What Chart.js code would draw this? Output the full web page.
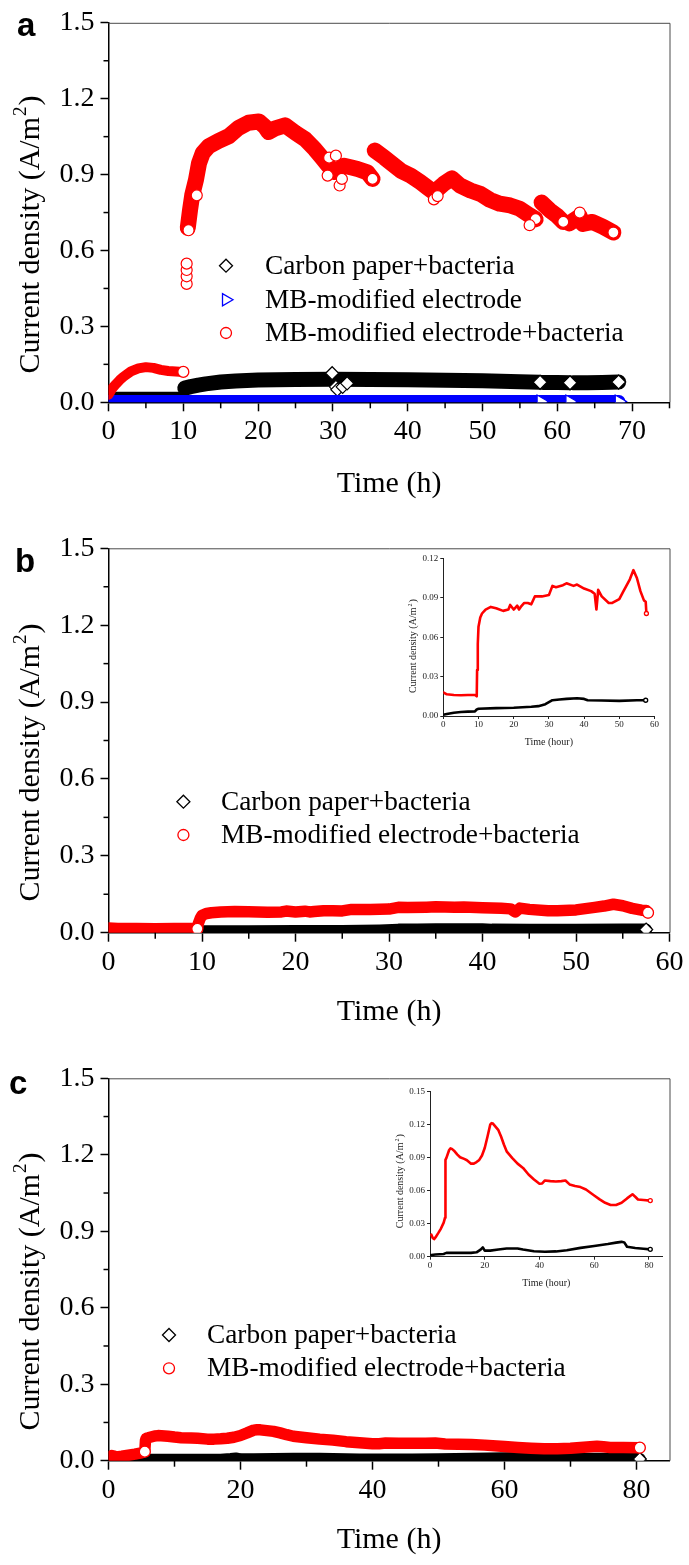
<!DOCTYPE html>
<html>
<head>
<meta charset="utf-8">
<script src="https://cdn.jsdelivr.net/npm/chart.js@4.4.0/dist/chart.umd.min.js"></script>
<style>
  html, body { margin: 0; padding: 0; background: #fff; }
  #wrap { position: relative; width: 689px; height: 1565px; }
  canvas { position: absolute; }
</style>
</head>
<body>
<div id="wrap">
  <canvas id="chartA" width="689" height="520" style="left:0;top:0"></canvas>
  <canvas id="chartB" width="689" height="520" style="left:0;top:520px"></canvas>
  <canvas id="chartC" width="689" height="525" style="left:0;top:1040px"></canvas>
  <canvas id="insetB" width="272" height="200" style="left:398px;top:548px"></canvas>
  <canvas id="insetC" width="295" height="215" style="left:385px;top:1082px"></canvas>
</div>
<script>
// ---- tick values ----
const yTicks = [0, 0.3, 0.6, 0.9, 1.2, 1.5];
const yMinor = [0.15, 0.45, 0.75, 1.05, 1.35];
const aXTicks = [0, 10, 20, 30, 40, 50, 60, 70];
const aXMinor = [5, 15, 25, 35, 45, 55, 65, 75];
const bXTicks = [0, 10, 20, 30, 40, 50, 60];
const bXMinor = [5, 15, 25, 35, 45, 55];
const cXTicks = [0, 20, 40, 60, 80];
const cXMinor = [10, 30, 50, 70];
const bInsetXTicks = [0, 10, 20, 30, 40, 50, 60];
const bInsetYTicks = [0, 0.03, 0.06, 0.09, 0.12];
const cInsetXTicks = [0, 20, 40, 60, 80];
const cInsetYTicks = [0, 0.03, 0.06, 0.09, 0.12, 0.15];

const labelCarbon = "Carbon paper+bacteria";
const labelMB = "MB-modified electrode";
const labelMBBact = "MB-modified electrode+bacteria";

// ---- panel a (null = break in the record) ----
const aRedT = [0, 0.5, 1, 1.5, 2, 3, 4, 5, 6, 7, 8, 9, 10, 10.2,
  10.6, 10.9, 11.2, 11.7, 12.1, 12.6, 13.4, 14.7, 16.1, 17.4, 18.7, 20.1, 20.9, 21.4, 22.3, 23.6, 25, 26.3, 27.6, 28.5, 29.4, 30.2, 31.5, 32.5, 33.3, 34.6, 35.3, 35.45,
  35.6, 36.9, 37.7, 39.1, 40.4, 41.7, 42.6, 43.5, 44.8, 45.9, 47, 48.4, 49.7, 51, 52.3, 53.7, 55, 56.3, 57.1, 57.5,
  57.9, 59, 59.9, 60.8, 61.2,
  61.6, 63, 63.4, 64.7, 66.1, 67.5];
const aRedV = [0.03, 0.055, 0.072, 0.088, 0.101, 0.122, 0.134, 0.139, 0.136, 0.128, 0.124, 0.122, 0.12, null,
  0.69, 0.76, 0.82, 0.88, 0.945, 0.985, 1.012, 1.033, 1.052, 1.085, 1.105, 1.11, 1.09, 1.068, 1.083, 1.095, 1.065, 1.04, 1.0, 0.968, 0.935, 0.91, 0.935, 0.928, 0.922, 0.909, 0.883, null,
  0.995, 0.967, 0.948, 0.915, 0.896, 0.87, 0.85, 0.83, 0.863, 0.885, 0.857, 0.837, 0.824, 0.80, 0.785, 0.778, 0.765, 0.739, 0.724, null,
  0.79, 0.759, 0.739, 0.713, null,
  0.707, 0.735, 0.705, 0.713, 0.694, 0.671];
const aRedOutT = [10.45, 10.45, 10.45, 10.45, 10.7, 11.8, 29.3, 29.5, 30.4, 30.9, 31.2, 43.5, 44.0, 56.3, 63.0];
const aRedOutV = [0.468, 0.498, 0.523, 0.548, 0.68, 0.818, 0.896, 0.967, 0.975, 0.857, 0.883, 0.802, 0.815, 0.70, 0.75];

const aBlack1T = [0, 5, 9.8];
const aBlack1V = [0.012, 0.012, 0.012];
const aBlackT = [10.2, 11, 12, 13, 15, 17, 20, 25, 30, 35, 40, 45, 50, 55, 57.7, 57.9, 58.1, 60, 61.7, 61.9, 62.1, 64, 66, 68.2];
const aBlackV = [0.056, 0.062, 0.068, 0.073, 0.080, 0.084, 0.088, 0.090, 0.091, 0.090, 0.089, 0.087, 0.085, 0.081, 0.079, null, 0.078, 0.078, 0.077, null, 0.077, 0.077, 0.078, 0.080];
const aBlackOutT = [29.9, 30.4, 30.6, 31.3, 31.9];
const aBlackOutV = [0.115, 0.061, 0.05, 0.061, 0.075];

const aBlueT = [0, 20, 40, 57.8, 57.95, 58.1, 61.65, 61.8, 62.0, 68.25];
const aBlueV = [0.003, 0.003, 0.003, 0.003, null, 0.003, 0.003, null, 0.003, 0.003];

// ---- panel b ----
const bRedT = [0, 1, 3, 5, 7, 9, 9.5, 9.6, 9.8, 10, 10.5, 11, 12, 13.5, 15, 17, 18.5, 19, 20, 21, 21.5, 22, 23, 24, 25, 26, 28, 30, 31, 32, 34, 35, 37, 38, 40, 42, 43, 43.5, 44, 45, 47, 48, 50, 51, 52, 53, 54, 55, 56, 57, 57.5, 57.7];
const bRedV = [0.018, 0.0165, 0.016, 0.0158, 0.016, 0.016, 0.015, 0.035, 0.055, 0.068, 0.075, 0.078, 0.081, 0.083, 0.082, 0.080, 0.081, 0.0845, 0.081, 0.084, 0.081, 0.083, 0.086, 0.086, 0.085, 0.091, 0.091, 0.092, 0.099, 0.098, 0.0995, 0.101, 0.099, 0.1, 0.097, 0.095, 0.093, 0.081, 0.096, 0.091, 0.086, 0.086, 0.089, 0.094, 0.099, 0.104, 0.111, 0.105, 0.095, 0.088, 0.087, 0.078];
const bBlackT = [0, 1, 3, 5, 7, 9, 9.5, 10, 15, 20, 25, 27, 29, 31, 33, 35, 38, 40, 41, 45, 50, 55, 57.5];
const bBlackV = [0.001, 0.0015, 0.0025, 0.003, 0.0033, 0.0035, 0.005, 0.0055, 0.006, 0.0063, 0.007, 0.0075, 0.009, 0.012, 0.0125, 0.013, 0.0135, 0.013, 0.012, 0.0118, 0.0115, 0.012, 0.012];

// ---- panel c ----
const cRedT = [0.5, 1, 1.5, 2, 3, 4, 5, 5.5, 5.6, 5.7, 6, 7, 7.5, 8, 9, 10, 11, 12.5, 13.5, 15, 16, 17, 18, 19, 20, 21, 22, 22.5, 23, 24, 25, 26, 27, 28, 30, 32, 34, 36, 38, 40, 41, 42, 44, 46, 48, 49.5, 51, 53, 55, 57, 60, 62, 64, 66, 68, 70, 72, 74, 75, 76, 78, 80.5];
const cRedV = [0.02, 0.017, 0.016, 0.0175, 0.0214, 0.0256, 0.031, 0.0355, 0.079, 0.088, 0.0898, 0.097, 0.0985, 0.098, 0.0958, 0.0928, 0.0904, 0.0889, 0.0877, 0.0846, 0.0846, 0.086, 0.088, 0.092, 0.0988, 0.109, 0.12, 0.1214, 0.121, 0.118, 0.115, 0.109, 0.102, 0.0958, 0.0898, 0.0846, 0.0807, 0.0747, 0.0702, 0.0663, 0.0666, 0.0693, 0.0687, 0.0684, 0.0687, 0.0693, 0.0657, 0.0642, 0.0633, 0.0611, 0.0557, 0.0521, 0.049, 0.047, 0.047, 0.049, 0.053, 0.0567, 0.0545, 0.052, 0.0515, 0.051];
const cBlackT = [0.5, 2, 5, 5.5, 6, 10, 15, 17, 18.5, 19.3, 20, 22, 25, 28, 32, 34, 38, 42, 46, 50, 55, 60, 65, 68, 70, 71, 72, 75, 78, 80.5];
const cBlackV = [0.0015, 0.002, 0.0025, 0.003, 0.0035, 0.0035, 0.0035, 0.004, 0.0065, 0.0085, 0.0055, 0.0055, 0.0065, 0.0075, 0.0075, 0.0065, 0.005, 0.0045, 0.0048, 0.0058, 0.008, 0.0098, 0.0115, 0.0128, 0.0135, 0.013, 0.009, 0.0079, 0.0072, 0.0067];

// ---- helpers ----
const SERIF = '"Liberation Serif", "Times New Roman", serif';
const RED = "#ff0000", BLUE = "#0000ff", BLACK = "#000000";

function pts(ts, vs) {
  return ts.map((t, i) => ({ x: t, y: vs[i] }));
}

// marker only where a run of points ends (next is a gap, or last point)
const segEnds = r => c => {
  if (c.type !== "data") return 0;
  const d = c.dataset.data, i = c.dataIndex;
  if (d[i].y === null) return 0;
  return (i === d.length - 1 || d[i + 1].y === null) ? r : 0;
};
// last point plus the foot of a sudden jump
const jumpsAndLast = (r, thr) => c => {
  if (c.type !== "data") return 0;
  const d = c.dataset.data, i = c.dataIndex;
  if (i === d.length - 1) return r;
  const up = d[i + 1].y - d[i].y;
  const before = i > 0 ? d[i].y - d[i - 1].y : 0;
  return (up > thr && before < thr) ? r : 0;
};
const lastOnly = r => c => (c.type === "data" && c.dataIndex === c.dataset.data.length - 1) ? r : 0;

function band(ts, vs, color, width, style, radiusFn, order, rotation) {
  return {
    data: pts(ts, vs),
    borderColor: color, borderWidth: width,
    borderCapStyle: "round", borderJoinStyle: "round",
    tension: 0, spanGaps: false, clip: 0, order: order,
    pointStyle: style, pointRotation: rotation || 0,
    pointRadius: radiusFn, pointHoverRadius: 0,
    pointBackgroundColor: "#fff", pointBorderColor: color, pointBorderWidth: 1.3
  };
}

function scatter(ts, vs, color, style, r, order) {
  return {
    data: pts(ts, vs), showLine: false, clip: 0, order: order,
    pointStyle: style, pointRadius: r, pointHoverRadius: 0,
    pointBackgroundColor: "#fff", pointBorderColor: color, pointBorderWidth: 1.2
  };
}

function drawYTitle(ctx, cx, cy, size, color) {
  const main = "Current density (A/m", sup = "2", tail = ")";
  const f1 = size + "px " + SERIF, f2 = Math.round(size * 0.62) + "px " + SERIF;
  ctx.save();
  ctx.translate(cx, cy);
  ctx.rotate(-Math.PI / 2);
  ctx.fillStyle = color;
  ctx.textBaseline = "alphabetic";
  ctx.textAlign = "left";
  ctx.font = f1;
  const w1 = ctx.measureText(main).width, w3 = ctx.measureText(tail).width;
  ctx.font = f2;
  const w2 = ctx.measureText(sup).width;
  let x = -(w1 + w2 + w3) / 2;
  const base = size * 0.33;
  ctx.font = f1; ctx.fillText(main, x, base); x += w1;
  ctx.font = f2; ctx.fillText(sup, x + 1, base - size * 0.42); x += w2 + 2;
  ctx.font = f1; ctx.fillText(tail, x, base);
  ctx.restore();
}

function marker(ctx, style, x, y, color) {
  ctx.save();
  ctx.strokeStyle = color; ctx.fillStyle = "#fff"; ctx.lineWidth = 1.3;
  ctx.beginPath();
  if (style === "diamond") {
    const r = 6.5;
    ctx.moveTo(x - r, y); ctx.lineTo(x, y - r); ctx.lineTo(x + r, y); ctx.lineTo(x, y + r); ctx.closePath();
  } else if (style === "triangle") {
    const r = 7;
    ctx.moveTo(x + r, y); ctx.lineTo(x - r / 2, y + r * 0.866); ctx.lineTo(x - r / 2, y - r * 0.866); ctx.closePath();
  } else {
    ctx.arc(x, y, 5.5, 0, Math.PI * 2);
  }
  ctx.fill(); ctx.stroke();
  ctx.restore();
}

// frame, minor ticks, y title, panel letter, in-plot legend
function deco(o) {
  return {
    id: "deco",
    afterDraw(chart) {
      const { ctx, chartArea: a, scales: { x, y } } = chart;
      ctx.save();
      if (o.frame) {
        ctx.strokeStyle = "#4a4a4a"; ctx.lineWidth = 1;
        ctx.beginPath();
        ctx.moveTo(a.left, a.top + 0.5);
        ctx.lineTo(a.right + 0.5, a.top + 0.5);
        ctx.lineTo(a.right + 0.5, a.bottom);
        ctx.stroke();
      }
      ctx.strokeStyle = "#000"; ctx.lineWidth = 1.5;
      (o.xMinor || []).forEach(v => {
        const px = x.getPixelForValue(v);
        ctx.beginPath(); ctx.moveTo(px, a.bottom); ctx.lineTo(px, a.bottom + 6); ctx.stroke();
      });
      (o.yMinor || []).forEach(v => {
        const py = y.getPixelForValue(v);
        ctx.beginPath(); ctx.moveTo(a.left, py); ctx.lineTo(a.left - 5, py); ctx.stroke();
      });
      drawYTitle(ctx, o.yTitleX, (a.top + a.bottom) / 2 + o.yTitleShift, o.yTitleSize, o.textColor || "#000");
      if (o.letter) {
        ctx.fillStyle = "#000";
        ctx.font = 'bold 33px "Liberation Sans", Arial, sans-serif';
        ctx.textBaseline = "alphabetic"; ctx.textAlign = "left";
        ctx.fillText(o.letter.text, o.letter.x, o.letter.y);
      }
      (o.legend || []).forEach(it => {
        marker(ctx, it.style, o.legendX, it.y, it.color);
        ctx.fillStyle = "#000";
        ctx.font = "27.3px " + SERIF;
        ctx.textBaseline = "middle"; ctx.textAlign = "left";
        ctx.fillText(it.text, o.legendTextX, it.y + 1);
      });
      ctx.restore();
    }
  };
}

function mainChart(id, o) {
  return new Chart(document.getElementById(id), {
    type: "line",
    data: { datasets: o.datasets },
    options: {
      responsive: false, animation: false, events: [],
      layout: { padding: { top: o.area.top, right: o.w - o.area.right, left: 0, bottom: 0 } },
      plugins: { legend: { display: false }, tooltip: { enabled: false } },
      scales: {
        x: {
          type: "linear", min: 0, max: o.xMax,
          afterBuildTicks: s => { s.ticks = o.xTicks.map(v => ({ value: v })); },
          afterFit: s => { s.height = o.h - o.area.bottom; },
          border: { color: "#000", width: 1.5 },
          grid: { drawOnChartArea: false, tickLength: 9, tickColor: "#000", tickWidth: 1.5 },
          ticks: { font: { family: SERIF, size: 28 }, color: "#000", padding: 4, maxRotation: 0, autoSkip: false, callback: v => String(v) },
          title: { display: true, text: "Time (h)", color: "#000", font: { family: SERIF, size: 30 }, padding: { top: 0, bottom: o.xTitlePad } }
        },
        y: {
          type: "linear", min: 0, max: 1.5,
          afterBuildTicks: s => { s.ticks = yTicks.map(v => ({ value: v })); },
          afterFit: s => { s.width = o.area.left; },
          border: { color: "#000", width: 1.5 },
          grid: { drawOnChartArea: false, tickLength: 8, tickColor: "#000", tickWidth: 1.5 },
          ticks: { font: { family: SERIF, size: 28 }, color: "#000", padding: 6, autoSkip: false, callback: v => v.toFixed(1) }
        }
      }
    },
    plugins: [deco(o)]
  });
}

function insetChart(id, o) {
  return new Chart(document.getElementById(id), {
    type: "line",
    data: { datasets: o.datasets },
    options: {
      responsive: false, animation: false, events: [],
      layout: { padding: { top: o.area.top, right: o.w - o.area.right, left: 0, bottom: 0 } },
      plugins: { legend: { display: false }, tooltip: { enabled: false } },
      scales: {
        x: {
          type: "linear", min: 0, max: o.xMax,
          afterBuildTicks: s => { s.ticks = o.xTicks.map(v => ({ value: v })); },
          afterFit: s => { s.height = o.h - o.area.bottom; },
          border: { color: "#222", width: 1 },
          grid: { drawOnChartArea: false, tickLength: 3, tickColor: "#222", tickWidth: 1 },
          ticks: { font: { family: SERIF, size: 9 }, color: "#222", padding: o.xTickPad, maxRotation: 0, autoSkip: false, callback: v => String(v) },
          title: { display: true, text: "Time (hour)", color: "#222", font: { family: SERIF, size: 10 }, padding: { top: 0, bottom: o.xTitlePad } }
        },
        y: {
          type: "linear", min: 0, max: o.yMax,
          afterBuildTicks: s => { s.ticks = o.yTicks.map(v => ({ value: v })); },
          afterFit: s => { s.width = o.area.left; },
          border: { color: "#222", width: 1 },
          grid: { drawOnChartArea: false, tickLength: 3, tickColor: "#222", tickWidth: 1 },
          ticks: { font: { family: SERIF, size: 9 }, color: "#222", padding: 2, autoSkip: false, callback: v => v.toFixed(2) }
        }
      }
    },
    plugins: [deco({ yTitleX: o.yTitleX, yTitleShift: o.yTitleShift, yTitleSize: 10, textColor: "#222" })]
  });
}

// ---- panel a ----
const aRedBand = band(aRedT, aRedV, RED, 15, "circle", segEnds(5.5), 1);
aRedBand.segment = { borderWidth: s => (s.p0.parsed.x < 10.1 ? 10 : 16) };

mainChart("chartA", {
  w: 689, h: 520, xMax: 75, xTicks: aXTicks, xMinor: aXMinor, yMinor: yMinor,
  area: { left: 108.5, right: 669.5, top: 19, bottom: 402.3 },
  xTitlePad: 18, yTitleX: 29, yTitleShift: 23, yTitleSize: 30, frame: true,
  letter: { text: "a", x: 17, y: 36 },
  legendX: 226, legendTextX: 265,
  legend: [
    { style: "diamond", color: BLACK, text: labelCarbon, y: 265.7 },
    { style: "triangle", color: BLUE, text: labelMB, y: 299.7 },
    { style: "circle", color: RED, text: labelMBBact, y: 333 }
  ],
  datasets: [
    scatter(aRedOutT, aRedOutV, RED, "circle", 5.5, 0),
    aRedBand,
    band(aBlueT, aBlueV, BLUE, 13, "triangle", segEnds(7.5), 2, 90),
    scatter(aBlackOutT, aBlackOutV, BLACK, "rectRot", 6.5, 3),
    band(aBlackT, aBlackV, BLACK, 15, "rectRot", segEnds(7), 4),
    band(aBlack1T, aBlack1V, BLACK, 15, "rectRot", 0, 5)
  ]
});

// ---- panel b ----
mainChart("chartB", {
  w: 689, h: 520, xMax: 60, xTicks: bXTicks, xMinor: bXMinor, yMinor: yMinor,
  area: { left: 108.5, right: 669.5, top: 28.3, bottom: 412.7 },
  xTitlePad: 10, yTitleX: 29, yTitleShift: 23, yTitleSize: 30, frame: true,
  letter: { text: "b", x: 15, y: 52 },
  legendX: 183.4, legendTextX: 221,
  legend: [
    { style: "diamond", color: BLACK, text: labelCarbon, y: 281.7 },
    { style: "circle", color: RED, text: labelMBBact, y: 315 }
  ],
  datasets: [
    band(bRedT, bRedV, RED, 11.5, "circle", jumpsAndLast(5.5, 0.018), 1),
    band(bBlackT, bBlackV, BLACK, 12, "rectRot", lastOnly(6.5), 2)
  ]
});

// ---- panel c ----
mainChart("chartC", {
  w: 689, h: 525, xMax: 85, xTicks: cXTicks, xMinor: cXMinor, yMinor: yMinor,
  area: { left: 108.5, right: 669.5, top: 38.3, bottom: 420.7 },
  xTitlePad: 7, yTitleX: 29, yTitleShift: 23, yTitleSize: 30, frame: true,
  letter: { text: "c", x: 9, y: 54 },
  legendX: 169, legendTextX: 207,
  legend: [
    { style: "diamond", color: BLACK, text: labelCarbon, y: 295 },
    { style: "circle", color: RED, text: labelMBBact, y: 328.3 }
  ],
  datasets: [
    band(cRedT, cRedV, RED, 11.5, "circle", jumpsAndLast(5.5, 0.018), 1),
    band(cBlackT, cBlackV, BLACK, 12, "rectRot", lastOnly(6.5), 2)
  ]
});

// ---- insets ----
insetChart("insetB", {
  w: 272, h: 200, xMax: 60, yMax: 0.12, xTicks: bInsetXTicks, yTicks: bInsetYTicks,
  area: { left: 45.3, right: 256.5, top: 10.3, bottom: 168 },
  xTickPad: 0, xTitlePad: 0, yTitleX: 14.5, yTitleShift: 10,
  datasets: [
    band(bRedT, bRedV, RED, 2.6, "circle", lastOnly(2), 1),
    band(bBlackT, bBlackV, BLACK, 2.6, "circle", lastOnly(2), 2)
  ]
});

insetChart("insetC", {
  w: 295, h: 215, xMax: 85, yMax: 0.15, xTicks: cInsetXTicks, yTicks: cInsetYTicks,
  area: { left: 45, right: 277.6, top: 9.7, bottom: 174.7 },
  xTickPad: 1, xTitlePad: 8, yTitleX: 15, yTitleShift: 8,
  datasets: [
    band(cRedT, cRedV, RED, 2.6, "circle", lastOnly(2), 1),
    band(cBlackT, cBlackV, BLACK, 2.6, "circle", lastOnly(2), 2)
  ]
});
</script>
</body>
</html>
